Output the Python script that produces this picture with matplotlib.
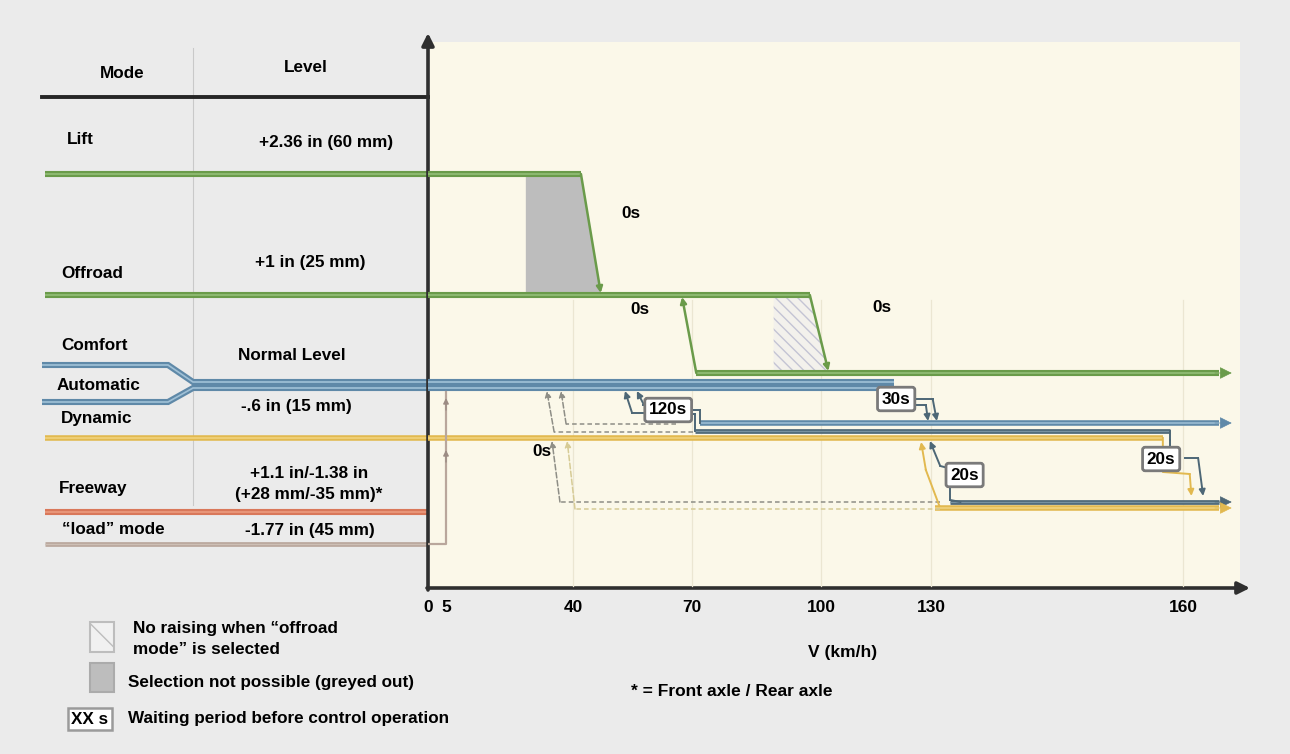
import matplotlib
matplotlib.use("Agg")
import matplotlib.pyplot as plt
import matplotlib.patheffects as pe
import numpy as np
from matplotlib.patches import Polygon, Rectangle

plt.rcParams["font.family"] = ["Liberation Sans", "DejaVu Sans"]
plt.rcParams["hatch.linewidth"] = 1.0

# ---- data -----------------------------------------------------------------
SPEED_TICKS = [0, 5, 40, 70, 100, 130, 160]          # km/h
MODES = ["Lift", "Offroad", "Comfort", "Automatic", "Dynamic", "Freeway",
         "\u201cload\u201d mode"]
LEVELS = ["+2.36 in (60 mm)", "+1 in (25 mm)", "Normal Level", "-.6 in (15 mm)",
          "+1.1 in/-1.38 in", "(+28 mm/-35 mm)*", "-1.77 in (45 mm)"]

V_END = 165.8                 # arrow tips on the right
LIFT_DROP = [42, 47]          # Lift -> Offroad ramp
LIFT_GREY = 27                # start of greyed-out selection
OFFROAD_DROP = [97.4, 102]    # Offroad -> low level ramp
OFFROAD_HATCH = 89            # start of "no raising" zone
OFFROAD_RISE = [71, 67.5]     # raise back to Offroad
NORMAL_END = 120              # normal level runs into the 30 s wait
LOWER_START = [70.7, 71.9]    # lowered level after the 120 s wait
RAISE_SOLID = [53.1, 56.1]    # raise back to normal level
RAISE_DASHED = [32.8, 36.7]   # raise at 0 s (dashed)
LOAD_RISE = 5

WAIT_LABELS = ["120s", "30s", "20s", "20s"]
WAIT_SPEEDS = [64, 120.5, 134, 157.4]
ZERO_LABELS = ["0s", "0s", "0s", "0s"]
ZERO_SPEEDS = [54.5, 57, 116.5, 31.5]

# ---- layout (pixel rows) -----------------------------------------------
TICK_PX = [428, 446, 573, 692, 821, 931, 1183]
TAIL = (TICK_PX[-1] - TICK_PX[-2]) / (SPEED_TICKS[-1] - SPEED_TICKS[-2])
ROW = dict(header=97, lift=174, offroad=295, low_green=373, normal_a=382,
           normal_b=388, lowered_a=423, lowered_b=431, dynamic=438,
           bottom_a=502, bottom_b=508, freeway=512, load=544, axis=588)
WAIT_ROWS = [410, 399, 475, 459]
ZERO_ROWS = [213, 310, 308, 452]

GREEN, GREEN_L = "#6a9b4a", "#92bd77"
BLUE, BLUE_L = "#5f89a8", "#9fc0d6"
DARK, DARK_L = "#4d6776", "#7892a0"
YELLOW, YELLOW_L = "#e2b94f", "#f2d480"
RED = "#d9785a"
LOAD = "#b9a79c"
DASH = "#8e8e86"
FS = 12.3


def fwd(s):
    s = np.asarray(s, dtype=float)
    return np.where(s <= SPEED_TICKS[-1], np.interp(s, SPEED_TICKS, TICK_PX),
                    TICK_PX[-1] + (s - SPEED_TICKS[-1]) * TAIL)


def inv(p):
    p = np.asarray(p, dtype=float)
    return np.where(p <= TICK_PX[-1], np.interp(p, TICK_PX, SPEED_TICKS),
                    SPEED_TICKS[-1] + (p - TICK_PX[-1]) / TAIL)


def level(axis, xs, ys, color, light, lw=4.4):
    axis.plot(xs, ys, color=light, lw=lw * 0.28, solid_capstyle="butt",
              solid_joinstyle="miter", zorder=3,
              path_effects=[pe.Stroke(linewidth=lw, foreground=color), pe.Normal()])


def arrow(axis, x0, y0, x1, y1, color, lw=1.2, ms=9, ls="-", z=4):
    axis.annotate("", xy=(x1, y1), xytext=(x0, y0), zorder=z,
                  arrowprops=dict(arrowstyle="-|>", color=color, lw=lw, ls=ls,
                                  mutation_scale=ms, shrinkA=0, shrinkB=0))


def end_arrow(axis, y, color):
    arrow(axis, V_END - 2, y, V_END, y, color, lw=0.5, ms=19, z=5)


def path(axis, xs, ys, color, lw=1.4, ls="-", head=True, z=4):
    axis.plot(xs[:-1], ys[:-1], color=color, lw=lw, ls=ls, zorder=z,
              dashes=(3, 2) if ls == "--" else (None, None))
    if head:
        arrow(axis, xs[-2], ys[-2], xs[-1], ys[-1], color, lw=lw,
              ls="--" if ls == "--" else "-", z=z)
    else:
        axis.plot(xs[-2:], ys[-2:], color=color, lw=lw, ls=ls, zorder=z)


fig = plt.figure(figsize=(12.9, 7.54), dpi=100, facecolor="#ebebeb")

# background axes in pixel units
bg = fig.add_axes([0, 0, 1, 1])
bg.set_xlim(0, 1290)
bg.set_ylim(754, 0)
bg.axis("off")
bg.add_patch(Rectangle((430, 42), 810, 546, facecolor="#fbf8e9", edgecolor="none"))

# speed axes, piecewise (schematic) speed scale
ax = fig.add_axes([428 / 1290, 0, 812 / 1290, 1])
ax.set_xscale("function", functions=(fwd, inv))
ax.set_xlim(0, float(inv(1240)))
ax.set_ylim(754, 0)
ax.axis("off")
ax.patch.set_visible(False)

# ---- table on the left ---------------------------------------------------
bg.plot([193, 193], [48, 505], color="#c9c9c9", lw=0.8)
bg.plot([42, 428], [ROW["header"]] * 2, color="#262626", lw=2.8)
bg.text(122, 73, "Mode", ha="center", va="center", fontsize=FS, fontweight="bold")
bg.text(306, 67, "Level", ha="center", va="center", fontsize=FS, fontweight="bold")

mode_pos = [(67, 140), (61, 274), (61, 346), (57, 385), (61, 419), (59, 489), (62, 530)]
for name, (x, y) in zip(MODES, mode_pos):
    bg.text(x, y, name, ha="left", va="center", fontsize=FS, fontweight="bold")
level_pos = [(326, 142), (310, 263), (292, 355), (296, 406), (309, 473), (309, 494), (310, 530)]
for name, (x, y) in zip(LEVELS, level_pos):
    bg.text(x, y, name, ha="center", va="center", fontsize=FS, fontweight="bold")

level(bg, [45, 428], [ROW["lift"]] * 2, GREEN, GREEN_L)
level(bg, [45, 428], [ROW["offroad"]] * 2, GREEN, GREEN_L)
level(bg, [42, 168, 193, 428], [365, 365, 382, ROW["normal_a"]], BLUE, BLUE_L)
level(bg, [42, 168, 193, 428], [402, 402, 388, ROW["normal_b"]], BLUE, BLUE_L)
level(bg, [45, 428], [ROW["freeway"]] * 2, RED, "#eb9a7e")
level(bg, [45, 428], [ROW["load"]] * 2, LOAD, "#cdbfb5", lw=3.4)

# ---- chart ---------------------------------------------------------------
for s in SPEED_TICKS[2:]:
    ax.plot([s, s], [300, 586], color="#ebe6d2", lw=0.9, zorder=1)

# greyed-out and hatched zones
ax.add_patch(Polygon([(LIFT_GREY, ROW["lift"] + 2), (LIFT_DROP[0], ROW["lift"] + 2),
                      (LIFT_DROP[1], ROW["offroad"] - 2), (LIFT_GREY, ROW["offroad"] - 2)],
                     closed=True, facecolor="#bdbdbd", edgecolor="none", zorder=2))
ax.add_patch(Polygon([(OFFROAD_HATCH, ROW["offroad"] + 2), (OFFROAD_DROP[0], ROW["offroad"] + 2),
                      (OFFROAD_DROP[1], ROW["low_green"] - 2), (OFFROAD_HATCH, ROW["low_green"] - 2)],
                     closed=True, facecolor="#f3f1ec", edgecolor="#c4c4d4", hatch="\\\\\\",
                     lw=0, zorder=2))

# Lift / Offroad
level(ax, [0, LIFT_DROP[0]], [ROW["lift"]] * 2, GREEN, GREEN_L)
arrow(ax, LIFT_DROP[0], ROW["lift"], LIFT_DROP[1], ROW["offroad"] - 2, GREEN, lw=1.8)
level(ax, [0, OFFROAD_DROP[0]], [ROW["offroad"]] * 2, GREEN, GREEN_L)
arrow(ax, OFFROAD_DROP[0], ROW["offroad"], OFFROAD_DROP[1], ROW["low_green"] - 2, GREEN, lw=1.8)
arrow(ax, OFFROAD_RISE[0], ROW["low_green"], OFFROAD_RISE[1], ROW["offroad"] + 2, GREEN, lw=1.8)
level(ax, [OFFROAD_RISE[0], V_END - 1.5], [ROW["low_green"]] * 2, GREEN, GREEN_L)
end_arrow(ax, ROW["low_green"], GREEN)

# normal level
level(ax, [0, NORMAL_END], [ROW["normal_a"]] * 2, BLUE, BLUE_L)
level(ax, [0, NORMAL_END], [ROW["normal_b"]] * 2, BLUE, BLUE_L)

# lowered level after 120 s
level(ax, [LOWER_START[1], V_END - 1.5], [ROW["lowered_a"]] * 2, BLUE, BLUE_L, lw=4.0)
end_arrow(ax, ROW["lowered_a"], BLUE)
level(ax, [LOWER_START[0], 158.5], [ROW["lowered_b"]] * 2, DARK, DARK_L, lw=3.4)

# dynamic level
level(ax, [0, 157.6], [ROW["dynamic"]] * 2, YELLOW, YELLOW_L, lw=4.0)
level(bg, [45, 428], [ROW["dynamic"]] * 2, YELLOW, YELLOW_L, lw=4.0)

# bottom level
level(ax, [132.3, V_END - 1.5], [ROW["bottom_a"]] * 2, DARK, DARK_L, lw=3.4)
end_arrow(ax, ROW["bottom_a"], DARK)
level(ax, [130.5, V_END - 1.5], [ROW["bottom_b"]] * 2, YELLOW, YELLOW_L, lw=4.0)
end_arrow(ax, ROW["bottom_b"], YELLOW)

# load mode raise
ax.plot([-1, LOAD_RISE, LOAD_RISE], [ROW["load"], ROW["load"], 392], color=LOAD, lw=1.6, zorder=3)
arrow(ax, LOAD_RISE, 410, LOAD_RISE, 398, "#9c8c84", lw=1.0, ms=8)
arrow(ax, LOAD_RISE, 462, LOAD_RISE, 450, "#9c8c84", lw=1.0, ms=8)

# 120 s: raise back to normal, lower after wait
path(ax, [57.6, 54.9, RAISE_SOLID[0]], [413, 413, 391], DARK)
path(ax, [57.6, 57.9, RAISE_SOLID[1]], [405, 405, 391], DARK)
path(ax, [70, LOWER_START[1], LOWER_START[1]], [410, 410, ROW["lowered_a"]], DARK, head=False)
path(ax, [69, LOWER_START[0], LOWER_START[0]], [414, 414, ROW["lowered_b"]], DARK, head=False)

# dashed 0 s raises
path(ax, [70.2, 34.8, RAISE_DASHED[0]], [432, 432, 391], DASH, lw=1.1, ls="--")
path(ax, [66, 38.1, RAISE_DASHED[1]], [424, 424, 391], DASH, lw=1.1, ls="--")
path(ax, [131.1, 36.4, 34.2], [502, 502, 441], DASH, lw=1.1, ls="--")
path(ax, [131.1, 40.5, 38.4], [509, 509, 441], "#d6cb95", lw=1.1, ls="--")

# 30 s
path(ax, [NORMAL_END, 127.3, 130.2, 130.7], [399, 399, 399, 421], DARK)
path(ax, [NORMAL_END, 128.6, 129.2], [405, 405, 421], DARK)

# 20 s (130 km/h)
path(ax, [133, 131.1, 129.7], [470, 466, 441], DARK)
path(ax, [132.3, 132.3, 133.5], [487, 500, 502], DARK, head=False)
path(ax, [131.0, 128.6, 127.3], [506, 470, 442], YELLOW)

# 20 s (160 km/h)
path(ax, [158.5, 158.5, 158.5], [ROW["lowered_b"], 440, 446], DARK, head=False)
path(ax, [160.2, 161.8, 162.4], [458, 458, 496], DARK)
path(ax, [157.6, 157.6, 160.8, 161.0], [ROW["dynamic"], 472, 474, 496], YELLOW)

# wait boxes and 0 s labels
for lab, s, y in zip(WAIT_LABELS, WAIT_SPEEDS, WAIT_ROWS):
    ax.text(s, y, lab, ha="center", va="center", fontsize=FS, fontweight="bold", zorder=6,
            bbox=dict(boxstyle="round,pad=0.25,rounding_size=0.15", fc="white",
                      ec="#7a7a7a", lw=2.0))
for lab, s, y in zip(ZERO_LABELS, ZERO_SPEEDS, ZERO_ROWS):
    ax.text(s, y, lab, ha="center", va="center", fontsize=FS, fontweight="bold", zorder=6)

# ---- axes arrows and labels ----------------------------------------------
bg.annotate("", xy=(428, 33), xytext=(428, ROW["axis"] + 2),
            arrowprops=dict(arrowstyle="-|>", color="#2f2f2f", lw=2.6,
                            mutation_scale=18, shrinkA=0, shrinkB=0), zorder=7)
bg.annotate("", xy=(1250, ROW["axis"]), xytext=(427, ROW["axis"]),
            arrowprops=dict(arrowstyle="-|>", color="#2f2f2f", lw=2.6,
                            mutation_scale=18, shrinkA=0, shrinkB=0), zorder=7)

for s in SPEED_TICKS:
    ax.text(s, 608, str(s), ha="center", va="center", fontsize=12.5, fontweight="bold")
ax.text(inv(843), 652, "V (km/h)", ha="center", va="center", fontsize=12.5,
        fontweight="bold")
bg.text(631, 691, "* = Front axle / Rear axle", ha="left", va="center", fontsize=12.5,
        fontweight="bold")

# ---- legend --------------------------------------------------------------
bg.add_patch(Rectangle((90, 622), 24, 30, facecolor="#f1f1f1", edgecolor="#bdbdbd",
                       hatch="\\", lw=1.5))
bg.text(133, 628, "No raising when \u201coffroad", ha="left", va="center",
        fontsize=FS, fontweight="bold")
bg.text(133, 650, "mode\u201d is selected", ha="left", va="center",
        fontsize=FS, fontweight="bold")
bg.add_patch(Rectangle((90, 663), 24, 29, facecolor="#bdbdbd", edgecolor="#ababab", lw=1.5))
bg.text(128, 682, "Selection not possible (greyed out)", ha="left", va="center",
        fontsize=FS, fontweight="bold")
bg.text(90, 719, "XX s", ha="center", va="center", fontsize=FS, fontweight="bold",
        bbox=dict(boxstyle="square,pad=0.2", fc="white", ec="#9a9a9a", lw=1.8))
bg.text(128, 719, "Waiting period before control operation", ha="left", va="center",
        fontsize=FS, fontweight="bold")

fig.savefig("out.png", dpi=100, facecolor=fig.get_facecolor())
